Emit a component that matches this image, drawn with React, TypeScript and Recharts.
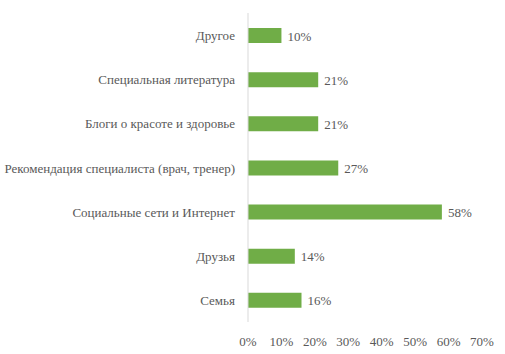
import React from "react";
import { BarChart, Bar, XAxis, YAxis, LabelList } from "recharts";

const categories = [
  "Другое",
  "Специальная литература",
  "Блоги о красоте и здоровье",
  "Рекомендация специалиста (врач, тренер)",
  "Социальные сети и Интернет",
  "Друзья",
  "Семья",
];
const values = [10, 21, 21, 27, 58, 14, 16];
const xTicks = [0, 10, 20, 30, 40, 50, 60, 70];

const data = categories.map((c, i) => ({ name: c, value: values[i] }));

const font = "'Liberation Serif', 'Times New Roman', serif";
const textColor = "#595959";
const fontSize = 13;

const renderYTick = (props: any) => {
  const { x, y, payload } = props;
  return (
    <text x={x - 11} y={y} dy={5} textAnchor="end" fill={textColor} fontFamily={font} fontSize={fontSize}>
      {payload.value}
    </text>
  );
};

const renderXTick = (props: any) => {
  const { x, y, payload } = props;
  return (
    <text x={x} y={y} dy={22} textAnchor="middle" fill={textColor} fontFamily={font} fontSize={fontSize}>
      {`${payload.value}%`}
    </text>
  );
};

const renderValueLabel = (props: any) => {
  const { x, y, width, height, value } = props;
  return (
    <text x={Number(x) + Number(width) + 6} y={Number(y) + Number(height) / 2} dy={5} textAnchor="start" fill={textColor} fontFamily={font} fontSize={fontSize}>
      {`${value}%`}
    </text>
  );
};

export default function App() {
  return (
    <div style={{ position: "absolute", left: 0, top: 0, width: 505, height: 354, background: "#fff" }}>
      <BarChart
        width={505}
        height={354}
        data={data}
        layout="vertical"
        margin={{ top: 13, right: 23, bottom: 0, left: 0 }}
      >
        <XAxis
          type="number"
          domain={[0, 70]}
          ticks={xTicks}
          axisLine={false}
          tickLine={false}
          tickSize={0}
          height={32}
          tick={renderXTick}
        />
        <YAxis
          type="category"
          dataKey="name"
          width={248}
          axisLine={{ stroke: "#d9d9d9" }}
          tickLine={false}
          tickSize={0}
          interval={0}
          tick={renderYTick}
        />
        <Bar dataKey="value" fill="#70AD47" barSize={15} isAnimationActive={false}>
          <LabelList dataKey="value" content={renderValueLabel} />
        </Bar>
      </BarChart>
    </div>
  );
}
